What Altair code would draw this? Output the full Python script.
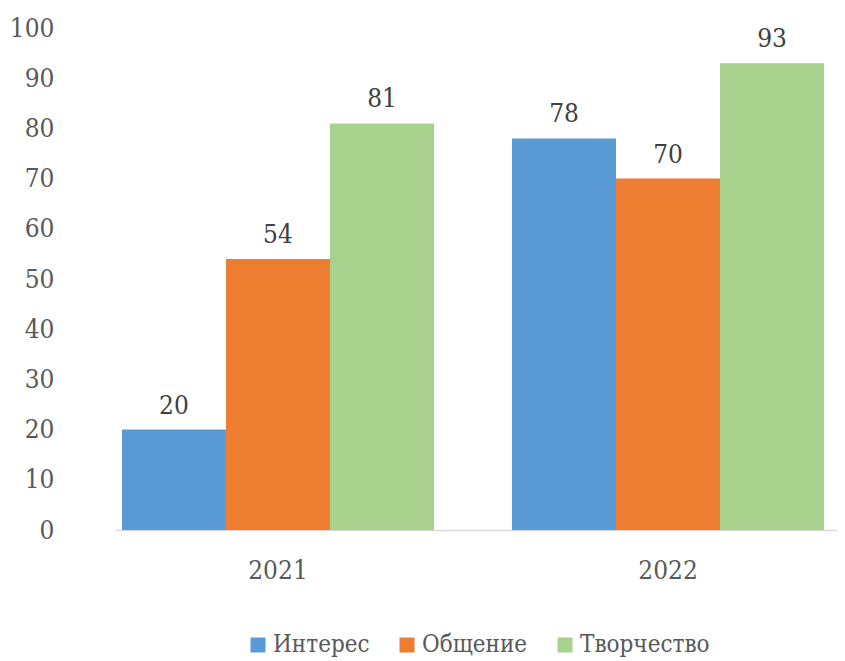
import altair as alt
import pandas as pd

years = ["2021", "2022"]
series = ["Интерес", "Общение", "Творчество"]
interes = [20, 78]
obshchenie = [54, 70]
tvorchestvo = [81, 93]
colors = ["#5B9BD5", "#ED7D31", "#A9D18E"]
y_ticks = list(range(0, 101, 10))

rows = []
for i, yr in enumerate(years):
    for s, vals in zip(series, [interes, obshchenie, tvorchestvo]):
        rows.append({"year": yr, "series": s, "value": vals[i]})
df = pd.DataFrame(rows)

font = "DejaVu Serif Condensed, DejaVu Serif"
grey = "#595959"
fs = 26

x = alt.X("year:N", sort=years,
          scale=alt.Scale(paddingInner=0.2, paddingOuter=0.0256, align=0.35),
          axis=alt.Axis(title=None, labelAngle=0, labelFontSize=fs, labelFont=font,
                        labelColor=grey, ticks=False, domainColor="#D9D9D9",
                        domainWidth=1.5, labelPadding=27))
xo = alt.XOffset("series:N", sort=series, scale=alt.Scale(paddingInner=0, paddingOuter=0))
y = alt.Y("value:Q", scale=alt.Scale(domain=[0, 100]),
          axis=alt.Axis(title=None, values=y_ticks, grid=False, domain=False, ticks=False,
                        labelFontSize=fs, labelFont=font, labelColor=grey, labelPadding=61))
color = alt.Color("series:N", sort=series,
                  scale=alt.Scale(domain=series, range=colors),
                  legend=alt.Legend(title=None, orient="none", direction="horizontal",
                                    legendX=131, legendY=605, symbolType="square",
                                    symbolSize=225, symbolStrokeWidth=0, symbolOpacity=1,
                                    labelFontSize=24, labelFont=font, labelColor=grey,
                                    columnPadding=25, labelOffset=3, labelLimit=300,
                                    gridAlign="none"))

bars = alt.Chart(df).mark_bar(cornerRadius=0).encode(x=x, xOffset=xo, y=y, color=color)
labels = alt.Chart(df).mark_text(dy=-16, baseline="alphabetic", fontSize=fs, font=font,
                                  color="#404040").encode(x=x, xOffset=xo, y=y, text="value:Q")

chart = alt.layer(bars, labels).properties(
    width=722, height=502,
    padding={"left": 107, "top": 20, "right": 0, "bottom": 132},
    autosize=alt.AutoSizeParams(type="none"),
    background="white",
).configure_view(stroke=None)

chart.save("out.html", embed_options={"renderer": "svg", "actions": False})
